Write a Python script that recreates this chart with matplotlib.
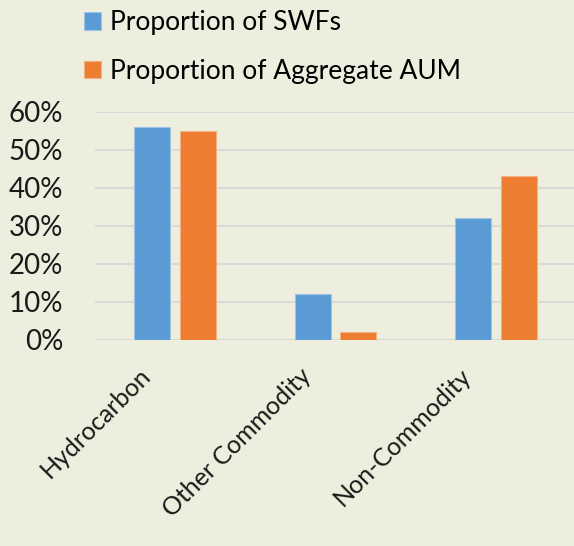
import matplotlib.pyplot as plt
import matplotlib.transforms as mtransforms
import numpy as np
from matplotlib.ticker import PercentFormatter

categories = ['Hydrocarbon', 'Other Commodity', 'Non-Commodity']
swfs = [0.56, 0.12, 0.32]
aum = [0.55, 0.02, 0.43]
yticks = [0, 0.1, 0.2, 0.3, 0.4, 0.5, 0.6]

bg = '#EEEEDE'
plt.rcParams['font.family'] = ['Lato', 'DejaVu Sans']

fig = plt.figure(figsize=(5.74, 5.46), dpi=100, facecolor=bg)
ax = fig.add_axes([95/574, 1 - 340/546, 481/574, (340 - 111.7)/546])
ax.set_facecolor(bg)

x = np.arange(len(categories))
w = 0.224
ax.bar(x - 0.142, swfs, w, color='#5B9BD5', edgecolor='#9DC3E6', linewidth=0.8,
       label='Proportion of SWFs', zorder=3)
ax.bar(x + 0.142, aum, w, color='#ED7D31', edgecolor='#F4B183', linewidth=0.8,
       label='Proportion of Aggregate AUM', zorder=3)

ax.set_xlim(-0.5, 2.5)
ax.set_ylim(0, 0.6)
ax.set_yticks(yticks)
ax.yaxis.set_major_formatter(PercentFormatter(1.0, decimals=0))
ax.grid(axis='y', color='#D9D9D9', linewidth=1.5, zorder=0)
for s in ax.spines.values():
    s.set_visible(False)
ax.tick_params(length=0, colors='#1a1a1a')
ax.tick_params(axis='y', labelsize=20, pad=23)
ax.tick_params(axis='x', labelsize=18, pad=17)
ax.set_xticks(x)
ax.set_xticklabels(categories, rotation=45, ha='right')
# shift the rotated category labels a bit to the left, like the original
shift = mtransforms.ScaledTranslation(-20/100, 0, fig.dpi_scale_trans)
for lbl in ax.get_xticklabels():
    lbl.set_transform(lbl.get_transform() + shift)

fig.legend(loc='upper left', bbox_to_anchor=(84/574, 1 - 10/546), frameon=False,
           fontsize=19, handlelength=0.65, handleheight=0.65, handletextpad=0.35,
           labelspacing=0.9, borderpad=0, borderaxespad=0)

fig.savefig('out.png', dpi=100, facecolor=bg)
